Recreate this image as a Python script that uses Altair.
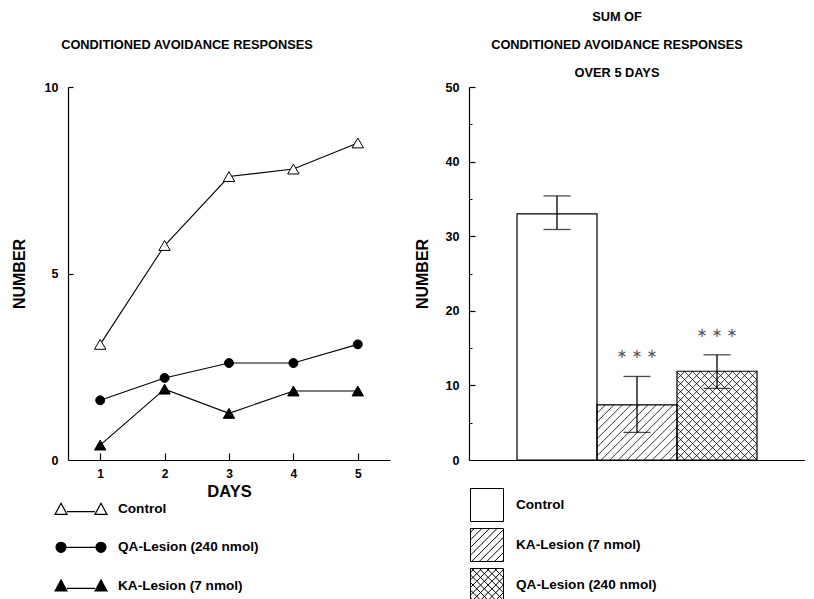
import altair as alt
import pandas as pd
import numpy as np

# ---------------- data ----------------
days = [1, 2, 3, 4, 5]
control = [3.1, 5.75, 7.6, 7.8, 8.5]
qa_lesion = [1.6, 2.2, 2.6, 2.6, 3.1]
ka_lesion = [0.4, 1.9, 1.25, 1.85, 1.85]
series_names = ["Control", "QA-Lesion (240 nmol)", "KA-Lesion (7 nmol)"]

groups = ["Control", "KA-Lesion (7 nmol)", "QA-Lesion (240 nmol)"]
sums = [33.0, 7.4, 11.9]
err_low = [30.9, 3.7, 9.6]
err_high = [35.4, 11.2, 14.1]
significance = ["", "\u2217 \u2217 \u2217", "\u2217 \u2217 \u2217"]

FONT = "Liberation Sans"
W_L, H_L = 322, 373
W_R, H_R = 336, 373

# ---------------- left: line chart ----------------
rows = []
for name, vals in zip(series_names, [control, qa_lesion, ka_lesion]):
    for d, v in zip(days, vals):
        rows.append({"day": d, "value": v, "series": name})
df_lines = pd.DataFrame(rows)

xs = alt.Scale(domain=[0.5, 5.5], nice=False, zero=False)
ys = alt.Scale(domain=[0, 10], nice=False)

lines = alt.Chart(df_lines).mark_line(color="black", strokeWidth=1.1).encode(
    x=alt.X("day:Q", scale=xs, axis=alt.Axis(values=days, ticks=False, format="d",
            labelFontSize=12, labelPadding=8, title="DAYS", titleFontSize=16.5,
            titlePadding=4, domainWidth=1.2)),
    y=alt.Y("value:Q", scale=ys, axis=alt.Axis(values=[0, 5, 10], ticks=False,
            labelFontSize=12.5, labelPadding=10, title="NUMBER", titleFontSize=16,
            titlePadding=17, domainWidth=1.2)),
    detail="series:N",
)

# marker shape, fill, marker size, legend symbol path (unit = 6 px)
tri_path = "M-4.33,0.9 L-3.33,-0.95 L-2.33,0.9 Z M-2.33,0.45 L2.33,0.45 M2.33,0.9 L3.33,-0.95 L4.33,0.9 Z"
circ_path = ("M-4.16,0 A0.83,0.83 0 1,1 -2.5,0 A0.83,0.83 0 1,1 -4.16,0 Z M-2.5,0 L2.5,0 "
             "M2.5,0 A0.83,0.83 0 1,1 4.16,0 A0.83,0.83 0 1,1 2.5,0 Z")
point_styles = {
    "Control": ("triangle-up", "white", 130, tri_path),
    "QA-Lesion (240 nmol)": ("circle", "black", 80, circ_path),
    "KA-Lesion (7 nmol)": ("triangle-up", "black", 130, tri_path),
}
point_layers = []
legend_layers = []
for i, name in enumerate(series_names):
    shp, fil, sz, lpath = point_styles[name]
    point_layers.append(
        alt.Chart(df_lines).transform_filter(alt.datum.series == name)
        .mark_point(shape=shp, filled=True, fill=fil, stroke="black", strokeWidth=1, size=sz, opacity=1)
        .encode(x=alt.X("day:Q", scale=xs, axis=None), y=alt.Y("value:Q", scale=ys, axis=None))
    )
    if i == 0:
        x_enc = alt.X("day:Q", scale=xs, axis=alt.Axis(orient="top", offset=-H_L, values=days, labels=False,
                      domain=False, ticks=True, tickSize=7, tickWidth=1.2, title=None))
        y_enc = alt.Y("value:Q", scale=ys, axis=alt.Axis(orient="right", offset=-W_L, values=[5, 10],
                      labels=False, domain=False, ticks=True, tickSize=5, tickWidth=1.2, title=None))
    else:
        x_enc = alt.X("day:Q", scale=xs, axis=None)
        y_enc = alt.Y("value:Q", scale=ys, axis=None)
    leg = alt.Legend(orient="none", legendX=6, legendY=415 + i * 38.3, direction="vertical", title=None,
                     symbolSize=144, labelOffset=30, labelFontSize=13.6, symbolStrokeWidth=1.2,
                     symbolFillColor=fil, padding=0)
    legend_layers.append(
        alt.Chart(df_lines).transform_filter(alt.datum.series == name)
        .mark_point(opacity=0, filled=True, fill=fil, stroke="black", strokeWidth=1.2)
        .encode(x=x_enc, y=y_enc,
                shape=alt.Shape("series:N", scale=alt.Scale(domain=[name], range=[lpath]), legend=leg))
    )

left = alt.layer(lines, *point_layers, *legend_layers).resolve_axis(
    x="independent", y="independent"
).resolve_scale(shape="independent").resolve_legend(shape="independent").properties(
    width=W_L, height=H_L,
    title=alt.TitleParams(["", "", "CONDITIONED AVOIDANCE RESPONSES"], lineHeight=28, offset=1, dx=-42),
)

# ---------------- right: bar chart ----------------
X_MIN, X_MAX = -0.1, 4.1
Y_MAX = 50
df_bars = pd.DataFrame({
    "group": groups,
    "sum": sums,
    "lo": err_low,
    "hi": err_high,
    "sig": significance,
    "xc": [i + 1 for i in range(len(groups))],
    "x0": [i + 0.5 for i in range(len(groups))],
    "x1": [i + 1.5 for i in range(len(groups))],
    "zero": [0] * len(groups),
})

kx = W_R / (X_MAX - X_MIN)
ky = H_R / Y_MAX


def hatch_segments(x0, x1, y1, families, spacing):
    """Line segments (data units) hatching the rectangle [x0,x1] x [0,y1]."""
    px0, px1 = (x0 - X_MIN) * kx, (x1 - X_MIN) * kx
    py0, py1 = 0.0, y1 * ky
    segs = []
    for fam in families:
        if fam == "/":  # py = px - c
            cs = np.arange(px0 - py1, px1 - py0, spacing)
            for c in cs:
                lo, hi = max(px0, py0 + c), min(px1, py1 + c)
                if hi - lo > 0.5:
                    segs.append((lo, lo - c, hi, hi - c))
        else:  # py = c - px
            cs = np.arange(px0 + py0, px1 + py1, spacing)
            for c in cs:
                lo, hi = max(px0, c - py1), min(px1, c - py0)
                if hi - lo > 0.5:
                    segs.append((lo, c - lo, hi, c - hi))
    return [{"hx": a / kx + X_MIN, "hy": b / ky, "hx2": c2 / kx + X_MIN, "hy2": d / ky}
            for a, b, c2, d in segs]


hatch_rows = []
hatch_rows += hatch_segments(df_bars.x0[1], df_bars.x1[1], df_bars["sum"][1], ["/"], 8.5)
hatch_rows += hatch_segments(df_bars.x0[2], df_bars.x1[2], df_bars["sum"][2], ["/", "\\"], 8)
df_hatch = pd.DataFrame(hatch_rows)

xr = alt.Scale(domain=[X_MIN, X_MAX], nice=False, zero=False)
yr = alt.Scale(domain=[0, Y_MAX], nice=False)

bars_fill = alt.Chart(df_bars).mark_rect(fill="white", stroke=None).encode(
    x=alt.X("x0:Q", scale=xr, axis=alt.Axis(labels=False, ticks=False, title=None, domainWidth=1.2)),
    x2="x1:Q",
    y=alt.Y("sum:Q", scale=yr, axis=alt.Axis(values=[0, 10, 20, 30, 40, 50], ticks=False,
            labelFontSize=12.5, labelPadding=10, title="NUMBER", titleFontSize=16,
            titlePadding=15, domainWidth=1.2)),
    y2="zero:Q",
)
hatch = alt.Chart(df_hatch).mark_rule(color="black", strokeWidth=0.8).encode(
    x=alt.X("hx:Q", scale=xr, axis=None), x2="hx2:Q",
    y=alt.Y("hy:Q", scale=yr, axis=None), y2="hy2:Q",
)
bars_outline = alt.Chart(df_bars).mark_rect(fill=None, stroke="black", strokeWidth=1.2).encode(
    x=alt.X("x0:Q", scale=xr, axis=None), x2="x1:Q",
    y=alt.Y("sum:Q", scale=yr, axis=None), y2="zero:Q",
)
err = alt.Chart(df_bars).mark_rule(color="black", strokeWidth=1.3).encode(
    x=alt.X("xc:Q", scale=xr, axis=None),
    y=alt.Y("lo:Q", scale=yr, axis=alt.Axis(orient="right", offset=-W_R, values=[5, 15, 25, 35, 45],
            labels=False, domain=False, ticks=True, tickSize=3, tickWidth=1, title=None)),
    y2="hi:Q",
)
cap_hi = alt.Chart(df_bars).mark_tick(orient="horizontal", size=27, thickness=1.3, color="black").encode(
    x=alt.X("xc:Q", scale=xr, axis=None),
    y=alt.Y("hi:Q", scale=yr, axis=alt.Axis(orient="right", offset=-W_R, values=[10, 20, 30, 40, 50],
            labels=False, domain=False, ticks=True, tickSize=6, tickWidth=1.2, title=None)),
)
cap_lo = alt.Chart(df_bars).mark_tick(orient="horizontal", size=27, thickness=1.3, color="black").encode(
    x=alt.X("xc:Q", scale=xr, axis=None),
    y=alt.Y("lo:Q", scale=yr, axis=None),
)
stars = alt.Chart(df_bars).mark_text(font="DejaVu Sans", fontSize=13, dy=-22, color="#555555").encode(
    x=alt.X("xc:Q", scale=xr, axis=None),
    y=alt.Y("hi:Q", scale=yr, axis=None),
    text="sig:N",
)


def square_hatch(families, sp):
    parts = ["M-1,-1 L1,-1 L1,1 L-1,1 Z"]
    for fam in families:
        for c in np.arange(-2 + sp / 2, 2, sp):
            lo, hi = max(-1.0, c - 1), min(1.0, c + 1)
            if hi - lo < 0.05:
                continue
            if fam == "/":  # x + y = c (y down)
                parts.append(f"M{lo:.3f},{c - lo:.3f} L{hi:.3f},{c - hi:.3f}")
            else:  # y = x - c
                parts.append(f"M{lo:.3f},{lo - c:.3f} L{hi:.3f},{hi - c:.3f}")
    return " ".join(parts)


sq_plain = "M-1,-1 L1,-1 L1,1 L-1,1 Z"
sq_hatch = square_hatch(["/"], 0.46)
sq_cross = square_hatch(["/", "\\"], 0.46)

leg_right = alt.Legend(orient="none", legendX=1, legendY=401, direction="vertical", title=None,
                       symbolSize=1089, rowPadding=2, labelOffset=12, labelFontSize=13.6,
                       symbolStrokeWidth=1, symbolFillColor="white", padding=0)
legend_layer_right = alt.Chart(df_bars).mark_point(opacity=0, filled=True, fill="white", stroke="black",
                                                   strokeWidth=1).encode(
    x=alt.X("xc:Q", scale=xr, axis=None),
    y=alt.Y("sum:Q", scale=yr, axis=None),
    shape=alt.Shape("group:N", scale=alt.Scale(domain=groups, range=[sq_plain, sq_hatch, sq_cross]),
                    legend=leg_right),
)

right = alt.layer(bars_fill, hatch, bars_outline, err, cap_hi, cap_lo, stars, legend_layer_right).resolve_axis(
    x="independent", y="independent"
).properties(
    width=W_R, height=H_R,
    title=alt.TitleParams(["SUM OF", "CONDITIONED AVOIDANCE RESPONSES", "OVER 5 DAYS"],
                          lineHeight=28, offset=1, dx=-20),
)

chart = alt.hconcat(left, right, spacing=24).resolve_scale(
    shape="independent"
).resolve_legend(
    shape="independent"
).properties(
    padding={"left": 3, "top": 3, "right": 0, "bottom": 0}
).configure_view(stroke=None).configure_axis(
    labelFont=FONT, titleFont=FONT, labelFontWeight="bold", titleFontWeight="bold",
    labelColor="black", titleColor="black", domainColor="black", tickColor="black", grid=False,
).configure_legend(
    labelFont=FONT, labelFontWeight="bold", labelColor="black",
).configure_title(
    font=FONT, fontWeight="bold", color="black", fontSize=12.8, anchor="middle",
)

chart.save("out.html", embed_options={"renderer": "svg", "actions": False})
